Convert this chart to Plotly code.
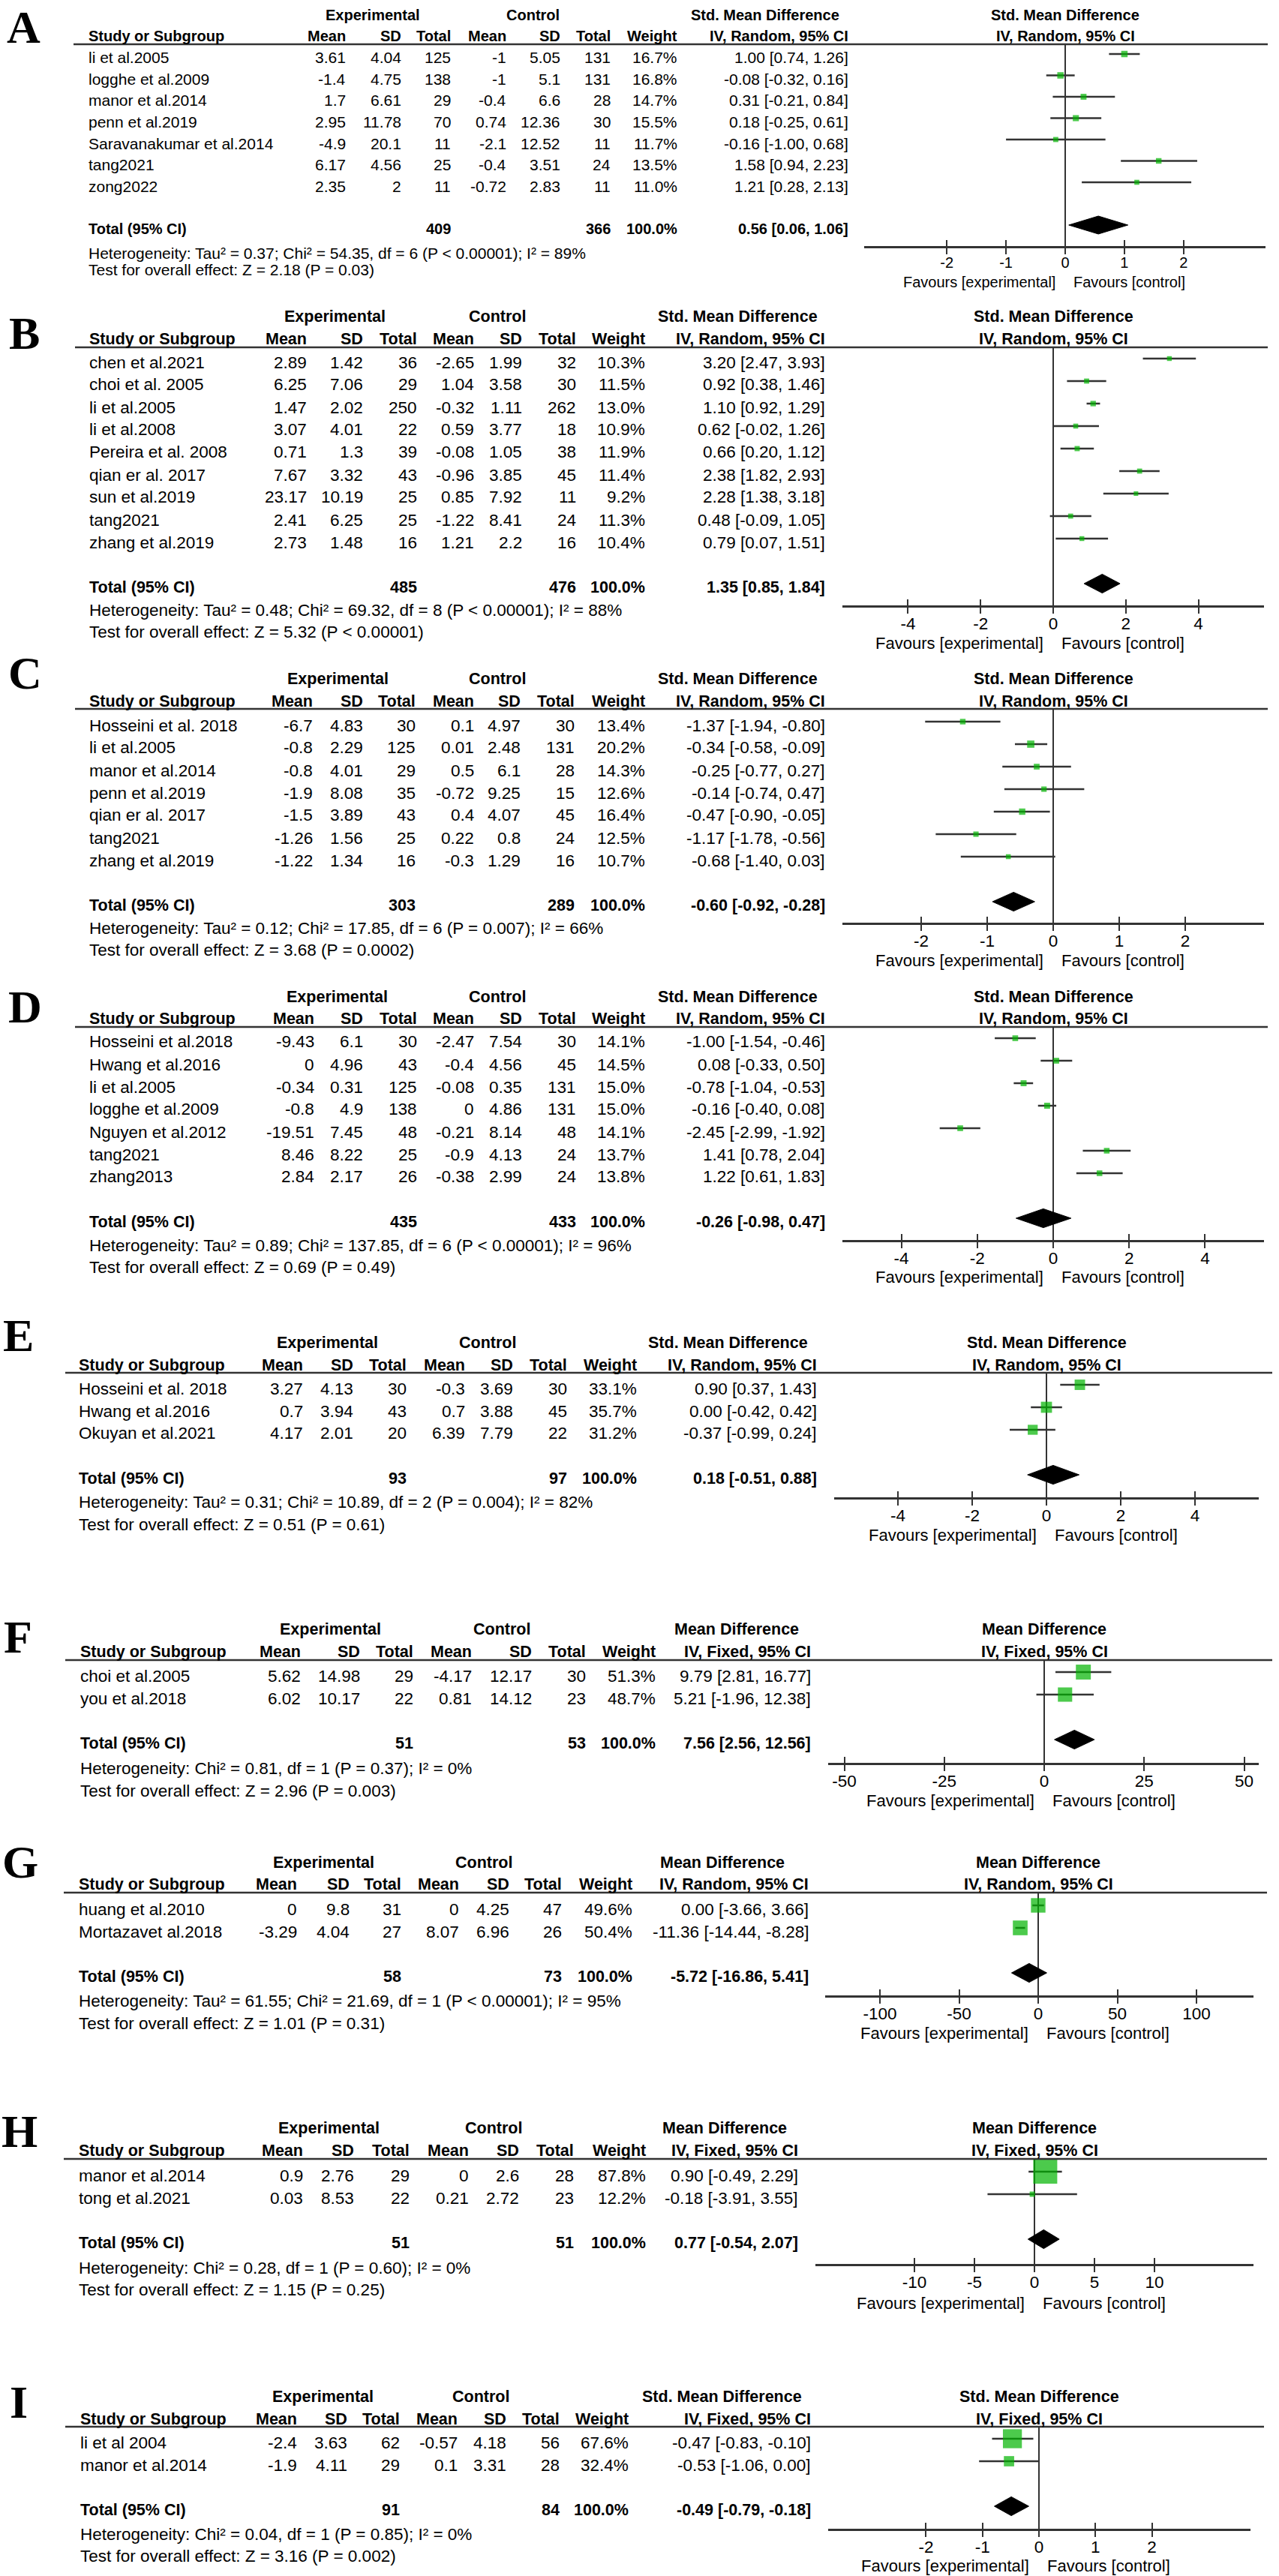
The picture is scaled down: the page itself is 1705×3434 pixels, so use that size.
import plotly.graph_objects as go

W, H = 1705, 3434

# ---------------- Panel A ----------------
A_measure = "Std. Mean Difference"
A_method = "IV, Random, 95% CI"
A_study = ["li et al.2005", "logghe et al.2009", "manor et al.2014", "penn et al.2019",
           "Saravanakumar et al.2014", "tang2021", "zong2022"]
A_exp_mean = [3.61, -1.4, 1.7, 2.95, -4.9, 6.17, 2.35]
A_exp_sd = [4.04, 4.75, 6.61, 11.78, 20.1, 4.56, 2]
A_exp_n = [125, 138, 29, 70, 11, 25, 11]
A_ctl_mean = [-1, -1, -0.4, 0.74, -2.1, -0.4, -0.72]
A_ctl_sd = [5.05, 5.1, 6.6, 12.36, 12.52, 3.51, 2.83]
A_ctl_n = [131, 131, 28, 30, 11, 24, 11]
A_weight = [16.7, 16.8, 14.7, 15.5, 11.7, 13.5, 11.0]
A_est = [1.00, -0.08, 0.31, 0.18, -0.16, 1.58, 1.21]
A_lo = [0.74, -0.32, -0.21, -0.25, -1.00, 0.94, 0.28]
A_hi = [1.26, 0.16, 0.84, 0.61, 0.68, 2.23, 2.13]
A_total = [409, 366, 100.0]
A_total_ci = [0.56, 0.06, 1.06]
A_het = "Heterogeneity: Tau² = 0.37; Chi² = 54.35, df = 6 (P < 0.00001); I² = 89%"
A_test = "Test for overall effect: Z = 2.18 (P = 0.03)"
A_ticks = [-2, -1, 0, 1, 2]

# ---------------- Panel B ----------------
B_measure = "Std. Mean Difference"
B_method = "IV, Random, 95% CI"
B_study = ["chen et al.2021", "choi et al. 2005", "li et al.2005", "li et al.2008",
           "Pereira et al. 2008", "qian er al. 2017", "sun et al.2019", "tang2021",
           "zhang et al.2019"]
B_exp_mean = [2.89, 6.25, 1.47, 3.07, 0.71, 7.67, 23.17, 2.41, 2.73]
B_exp_sd = [1.42, 7.06, 2.02, 4.01, 1.3, 3.32, 10.19, 6.25, 1.48]
B_exp_n = [36, 29, 250, 22, 39, 43, 25, 25, 16]
B_ctl_mean = [-2.65, 1.04, -0.32, 0.59, -0.08, -0.96, 0.85, -1.22, 1.21]
B_ctl_sd = [1.99, 3.58, 1.11, 3.77, 1.05, 3.85, 7.92, 8.41, 2.2]
B_ctl_n = [32, 30, 262, 18, 38, 45, 11, 24, 16]
B_weight = [10.3, 11.5, 13.0, 10.9, 11.9, 11.4, 9.2, 11.3, 10.4]
B_est = [3.20, 0.92, 1.10, 0.62, 0.66, 2.38, 2.28, 0.48, 0.79]
B_lo = [2.47, 0.38, 0.92, -0.02, 0.20, 1.82, 1.38, -0.09, 0.07]
B_hi = [3.93, 1.46, 1.29, 1.26, 1.12, 2.93, 3.18, 1.05, 1.51]
B_total = [485, 476, 100.0]
B_total_ci = [1.35, 0.85, 1.84]
B_het = "Heterogeneity: Tau² = 0.48; Chi² = 69.32, df = 8 (P < 0.00001); I² = 88%"
B_test = "Test for overall effect: Z = 5.32 (P < 0.00001)"
B_ticks = [-4, -2, 0, 2, 4]

# ---------------- Panel C ----------------
C_measure = "Std. Mean Difference"
C_method = "IV, Random, 95% CI"
C_study = ["Hosseini et al. 2018", "li et al.2005", "manor et al.2014", "penn et al.2019",
           "qian er al. 2017", "tang2021", "zhang et al.2019"]
C_exp_mean = [-6.7, -0.8, -0.8, -1.9, -1.5, -1.26, -1.22]
C_exp_sd = [4.83, 2.29, 4.01, 8.08, 3.89, 1.56, 1.34]
C_exp_n = [30, 125, 29, 35, 43, 25, 16]
C_ctl_mean = [0.1, 0.01, 0.5, -0.72, 0.4, 0.22, -0.3]
C_ctl_sd = [4.97, 2.48, 6.1, 9.25, 4.07, 0.8, 1.29]
C_ctl_n = [30, 131, 28, 15, 45, 24, 16]
C_weight = [13.4, 20.2, 14.3, 12.6, 16.4, 12.5, 10.7]
C_est = [-1.37, -0.34, -0.25, -0.14, -0.47, -1.17, -0.68]
C_lo = [-1.94, -0.58, -0.77, -0.74, -0.90, -1.78, -1.40]
C_hi = [-0.80, -0.09, 0.27, 0.47, -0.05, -0.56, 0.03]
C_total = [303, 289, 100.0]
C_total_ci = [-0.60, -0.92, -0.28]
C_het = "Heterogeneity: Tau² = 0.12; Chi² = 17.85, df = 6 (P = 0.007); I² = 66%"
C_test = "Test for overall effect: Z = 3.68 (P = 0.0002)"
C_ticks = [-2, -1, 0, 1, 2]

# ---------------- Panel D ----------------
D_measure = "Std. Mean Difference"
D_method = "IV, Random, 95% CI"
D_study = ["Hosseini et al.2018", "Hwang et al.2016", "li et al.2005", "logghe et al.2009",
           "Nguyen et al.2012", "tang2021", "zhang2013"]
D_exp_mean = [-9.43, 0, -0.34, -0.8, -19.51, 8.46, 2.84]
D_exp_sd = [6.1, 4.96, 0.31, 4.9, 7.45, 8.22, 2.17]
D_exp_n = [30, 43, 125, 138, 48, 25, 26]
D_ctl_mean = [-2.47, -0.4, -0.08, 0, -0.21, -0.9, -0.38]
D_ctl_sd = [7.54, 4.56, 0.35, 4.86, 8.14, 4.13, 2.99]
D_ctl_n = [30, 45, 131, 131, 48, 24, 24]
D_weight = [14.1, 14.5, 15.0, 15.0, 14.1, 13.7, 13.8]
D_est = [-1.00, 0.08, -0.78, -0.16, -2.45, 1.41, 1.22]
D_lo = [-1.54, -0.33, -1.04, -0.40, -2.99, 0.78, 0.61]
D_hi = [-0.46, 0.50, -0.53, 0.08, -1.92, 2.04, 1.83]
D_total = [435, 433, 100.0]
D_total_ci = [-0.26, -0.98, 0.47]
D_het = "Heterogeneity: Tau² = 0.89; Chi² = 137.85, df = 6 (P < 0.00001); I² = 96%"
D_test = "Test for overall effect: Z = 0.69 (P = 0.49)"
D_ticks = [-4, -2, 0, 2, 4]

# ---------------- Panel E ----------------
E_measure = "Std. Mean Difference"
E_method = "IV, Random, 95% CI"
E_study = ["Hosseini et al. 2018", "Hwang et al.2016", "Okuyan et al.2021"]
E_exp_mean = [3.27, 0.7, 4.17]
E_exp_sd = [4.13, 3.94, 2.01]
E_exp_n = [30, 43, 20]
E_ctl_mean = [-0.3, 0.7, 6.39]
E_ctl_sd = [3.69, 3.88, 7.79]
E_ctl_n = [30, 45, 22]
E_weight = [33.1, 35.7, 31.2]
E_est = [0.90, 0.00, -0.37]
E_lo = [0.37, -0.42, -0.99]
E_hi = [1.43, 0.42, 0.24]
E_total = [93, 97, 100.0]
E_total_ci = [0.18, -0.51, 0.88]
E_het = "Heterogeneity: Tau² = 0.31; Chi² = 10.89, df = 2 (P = 0.004); I² = 82%"
E_test = "Test for overall effect: Z = 0.51 (P = 0.61)"
E_ticks = [-4, -2, 0, 2, 4]

# ---------------- Panel F ----------------
F_measure = "Mean Difference"
F_method = "IV, Fixed, 95% CI"
F_study = ["choi et al.2005", "you et al.2018"]
F_exp_mean = [5.62, 6.02]
F_exp_sd = [14.98, 10.17]
F_exp_n = [29, 22]
F_ctl_mean = [-4.17, 0.81]
F_ctl_sd = [12.17, 14.12]
F_ctl_n = [30, 23]
F_weight = [51.3, 48.7]
F_est = [9.79, 5.21]
F_lo = [2.81, -1.96]
F_hi = [16.77, 12.38]
F_total = [51, 53, 100.0]
F_total_ci = [7.56, 2.56, 12.56]
F_het = "Heterogeneity: Chi² = 0.81, df = 1 (P = 0.37); I² = 0%"
F_test = "Test for overall effect: Z = 2.96 (P = 0.003)"
F_ticks = [-50, -25, 0, 25, 50]

# ---------------- Panel G ----------------
G_measure = "Mean Difference"
G_method = "IV, Random, 95% CI"
G_study = ["huang et al.2010", "Mortazavet al.2018"]
G_exp_mean = [0, -3.29]
G_exp_sd = [9.8, 4.04]
G_exp_n = [31, 27]
G_ctl_mean = [0, 8.07]
G_ctl_sd = [4.25, 6.96]
G_ctl_n = [47, 26]
G_weight = [49.6, 50.4]
G_est = [0.00, -11.36]
G_lo = [-3.66, -14.44]
G_hi = [3.66, -8.28]
G_total = [58, 73, 100.0]
G_total_ci = [-5.72, -16.86, 5.41]
G_het = "Heterogeneity: Tau² = 61.55; Chi² = 21.69, df = 1 (P < 0.00001); I² = 95%"
G_test = "Test for overall effect: Z = 1.01 (P = 0.31)"
G_ticks = [-100, -50, 0, 50, 100]

# ---------------- Panel H ----------------
H_measure = "Mean Difference"
H_method = "IV, Fixed, 95% CI"
H_study = ["manor et al.2014", "tong et al.2021"]
H_exp_mean = [0.9, 0.03]
H_exp_sd = [2.76, 8.53]
H_exp_n = [29, 22]
H_ctl_mean = [0, 0.21]
H_ctl_sd = [2.6, 2.72]
H_ctl_n = [28, 23]
H_weight = [87.8, 12.2]
H_est = [0.90, -0.18]
H_lo = [-0.49, -3.91]
H_hi = [2.29, 3.55]
H_total = [51, 51, 100.0]
H_total_ci = [0.77, -0.54, 2.07]
H_het = "Heterogeneity: Chi² = 0.28, df = 1 (P = 0.60); I² = 0%"
H_test = "Test for overall effect: Z = 1.15 (P = 0.25)"
H_ticks = [-10, -5, 0, 5, 10]

# ---------------- Panel I ----------------
I_measure = "Std. Mean Difference"
I_method = "IV, Fixed, 95% CI"
I_study = ["li et al 2004", "manor et al.2014"]
I_exp_mean = [-2.4, -1.9]
I_exp_sd = [3.63, 4.11]
I_exp_n = [62, 29]
I_ctl_mean = [-0.57, 0.1]
I_ctl_sd = [4.18, 3.31]
I_ctl_n = [56, 28]
I_weight = [67.6, 32.4]
I_est = [-0.47, -0.53]
I_lo = [-0.83, -1.06]
I_hi = [-0.10, 0.00]
I_total = [91, 84, 100.0]
I_total_ci = [-0.49, -0.79, -0.18]
I_het = "Heterogeneity: Chi² = 0.04, df = 1 (P = 0.85); I² = 0%"
I_test = "Test for overall effect: Z = 3.16 (P = 0.002)"
I_ticks = [-2, -1, 0, 1, 2]

PANELS = "ABCDEFGHI"
FIELDS = ["measure", "method", "study", "exp_mean", "exp_sd", "exp_n", "ctl_mean",
          "ctl_sd", "ctl_n", "weight", "est", "lo", "hi", "total", "total_ci",
          "het", "test", "ticks"]
DATA = {p: {f: globals()[f"{p}_{f}"] for f in FIELDS} for p in PANELS}

# ---------------- layout geometry (pixels) ----------------
GEO = {
    "A": dict(lx=31, ly=0, ltop=True, h1=20, h2=48, line_y=59, line_x=(98, 1690), row0=72, sp=28.5,
              axis_y=328, axis_x=(1152, 1687), zero=1420, ppu=78.9, het=337, test=359, fav=376,
              name_x=116, cols=(463, 537, 603, 677, 749, 816, 905, 1133),
              exp_c=497, ctl_c=710, eff_c=1020, fs=21, fsb=20, tfs=20, ffs=20),
    "B": dict(lx=32, ly=444, h1=422, h2=452, line_y=463, line_x=(100, 1690), row0=478, sp=30,
              axis_y=807, axis_x=(1123, 1685), zero=1404, ppu=48.4, het=814, test=843, fav=857,
              name_x=117, cols=(411, 486, 558, 634, 698, 770, 862, 1102),
              exp_c=446, ctl_c=663, eff_c=983, fs=22.5, fsb=21.5),
    "C": dict(lx=33, ly=897, h1=905, h2=935, line_y=945, line_x=(100, 1690), row0=962, sp=30,
              axis_y=1230, axis_x=(1123, 1685), zero=1404, ppu=88.0, het=1238, test=1267, fav=1280,
              name_x=117, cols=(419, 486, 556, 634, 696, 768, 862, 1102),
              exp_c=450, ctl_c=663, eff_c=983, fs=22.5, fsb=21.5),
    "D": dict(lx=33, ly=1342, h1=1329, h2=1358, line_y=1369, line_x=(100, 1690), row0=1384, sp=30,
              axis_y=1653, axis_x=(1123, 1685), zero=1404, ppu=50.6, het=1660, test=1689, fav=1703,
              name_x=117, cols=(421, 486, 558, 634, 698, 770, 862, 1102),
              exp_c=449, ctl_c=663, eff_c=983, fs=22.5, fsb=21.5),
    "E": dict(lx=24, ly=1780, h1=1790, h2=1820, line_y=1830, line_x=(87, 1696), row0=1846, sp=30,
              axis_y=1996, axis_x=(1112, 1678), zero=1395, ppu=49.5, het=2002, test=2032, fav=2046,
              name_x=103, cols=(406, 473, 544, 622, 686, 758, 851, 1091),
              exp_c=437, ctl_c=650, eff_c=971, fs=22.5, fsb=21.5),
    "F": dict(lx=24, ly=2182, h1=2172, h2=2202, line_y=2213, line_x=(87, 1696), row0=2229, sp=30,
              axis_y=2350, axis_x=(1104, 1678), zero=1392, ppu=5.33, het=2357, test=2387, fav=2400,
              name_x=105, cols=(403, 482, 553, 631, 711, 783, 876, 1083),
              exp_c=440, ctl_c=669, eff_c=982, fs=22.5, fsb=21.5),
    "G": dict(lx=27, ly=2482, h1=2483, h2=2512, line_y=2523, line_x=(85, 1689), row0=2540, sp=30,
              axis_y=2660, axis_x=(1100, 1671), zero=1384, ppu=2.11, het=2667, test=2697, fav=2710,
              name_x=103, cols=(398, 468, 537, 614, 681, 751, 845, 1080),
              exp_c=431, ctl_c=645, eff_c=963, fs=22.5, fsb=21.5),
    "H": dict(lx=26, ly=2841, h1=2837, h2=2867, line_y=2878, line_x=(85, 1689), row0=2895, sp=30,
              axis_y=3018, axis_x=(1087, 1671), zero=1379, ppu=16.0, het=3023, test=3052, fav=3070,
              name_x=103, cols=(406, 474, 548, 627, 694, 767, 863, 1066),
              exp_c=438, ctl_c=658, eff_c=966, fs=22.5, fsb=21.5),
    "I": dict(lx=25, ly=3202, h1=3195, h2=3225, line_y=3235, line_x=(87, 1685), row0=3251, sp=30,
              axis_y=3371, axis_x=(1104, 1667), zero=1385, ppu=75.3, het=3378, test=3407, fav=3420,
              name_x=105, cols=(398, 465, 535, 612, 677, 748, 840, 1083),
              exp_c=430, ctl_c=641, eff_c=962, fs=22.5, fsb=21.5),
}

FONT = "Liberation Sans, Arial, sans-serif"
SERIF = "Liberation Serif, Times New Roman, serif"
LINE = "#333333"
GREEN = "#00b400"
TXT_DY = 5        # text centre sits a few px below the marker centre
DIAMOND_H = 0.42  # half height of the pooled diamond, in row units


def num(v):
    return f"{v:g}"


def ci(e, l, h):
    return f"{e:.2f} [{l:.2f}, {h:.2f}]"


annotations = []
shapes = []
axes = {}
fig = go.Figure()


def T(x, y, text, xa="left", size=22, bold=False, family=FONT, ya="middle"):
    annotations.append(dict(
        x=x / W, y=1 - y / H, xref="paper", yref="paper", text=text, showarrow=False,
        xanchor=xa, yanchor=ya,
        font=dict(family=family, size=size, color="black", weight="bold" if bold else "normal")))


for k, p in enumerate(PANELS, start=1):
    d, g = DATA[p], GEO[p]
    n = len(d["study"])
    xa, ya, xo = f"x{k}", f"y{k}", f"x{k + 9}"
    rows = [-i for i in range(n)]
    tot = -(n + 1)
    fs, fsb, cols = g["fs"], g["fsb"], g["cols"]
    tfs = g.get("tfs", fs)
    ffs = g.get("ffs", fs - 0.5)

    # confidence-interval whiskers
    xs, ys = [], []
    for i in range(n):
        xs += [d["lo"][i], d["hi"][i], None]
        ys += [rows[i], rows[i], None]
    fig.add_trace(go.Scatter(x=xs, y=ys, mode="lines", line=dict(color=LINE, width=2.5),
                             xaxis=xa, yaxis=ya, hoverinfo="skip", showlegend=False))
    # study squares
    fig.add_trace(go.Scatter(x=d["est"], y=rows, mode="markers",
                             marker=dict(symbol="square", color=GREEN,
                                         size=[3 + 0.33 * w for w in d["weight"]],
                                         line=dict(width=0)),
                             xaxis=xa, yaxis=ya, showlegend=False))
    # pooled diamond
    e, l, h = d["total_ci"]
    fig.add_trace(go.Scatter(x=[l, e, h, e, l],
                             y=[tot, tot + DIAMOND_H, tot, tot - DIAMOND_H, tot],
                             mode="lines", fill="toself", fillcolor="black",
                             line=dict(color="black", width=1),
                             xaxis=xa, yaxis=ya, hoverinfo="skip", showlegend=False))
    # invisible trace for the overlay tick axis (upper half of crossing ticks)
    fig.add_trace(go.Scatter(x=d["ticks"], y=[tot] * len(d["ticks"]), mode="markers",
                             marker=dict(opacity=0), xaxis=xo, yaxis=ya,
                             hoverinfo="skip", showlegend=False))

    x0, x1 = g["axis_x"]
    rng = [(x0 - g["zero"]) / g["ppu"], (x1 - g["zero"]) / g["ppu"]]
    dom = [x0 / W, x1 / W]
    axes[f"xaxis{k}"] = dict(
        domain=dom, range=rng, anchor=ya, showline=True, linecolor=LINE, linewidth=2.5,
        ticks="outside", ticklen=8, tickwidth=2, tickcolor=LINE, ticklabelstandoff=-6,
        tickvals=d["ticks"], ticktext=[str(t) for t in d["ticks"]],
        tickfont=dict(family=FONT, size=tfs, color="black"),
        showgrid=False, zeroline=True, zerolinecolor=LINE, zerolinewidth=1.5, fixedrange=True)
    axes[f"xaxis{k + 9}"] = dict(
        domain=dom, range=rng, anchor=ya, overlaying=xa, showline=False,
        ticks="inside", ticklen=8, tickwidth=2, tickcolor=LINE,
        tickvals=d["ticks"], showticklabels=False, showgrid=False, zeroline=False,
        fixedrange=True)
    axes[f"yaxis{k}"] = dict(
        domain=[1 - g["axis_y"] / H, 1 - g["line_y"] / H],
        range=[-(g["axis_y"] - g["row0"]) / g["sp"], (g["row0"] - g["line_y"]) / g["sp"]],
        visible=False, fixedrange=True)

    # header line
    shapes.append(dict(type="line", xref="paper", yref="paper",
                       x0=g["line_x"][0] / W, x1=g["line_x"][1] / W,
                       y0=1 - g["line_y"] / H, y1=1 - g["line_y"] / H,
                       line=dict(color=LINE, width=2.5)))

    # panel letter
    T(g["lx"], g["ly"], p, xa="center", size=62, bold=True, family=SERIF,
      ya="top" if g.get("ltop") else "middle")
    # header row 1
    T(g["exp_c"], g["h1"], "Experimental", "center", fsb, True)
    T(g["ctl_c"], g["h1"], "Control", "center", fsb, True)
    T(g["eff_c"], g["h1"], d["measure"], "center", fsb, True)
    T(g["zero"], g["h1"], d["measure"], "center", fsb, True)
    # header row 2
    T(g["name_x"], g["h2"], "Study or Subgroup", "left", fsb, True)
    for c, lab in zip(cols[:7], ["Mean", "SD", "Total", "Mean", "SD", "Total", "Weight"]):
        T(c, g["h2"], lab, "right", fsb, True)
    T(cols[7], g["h2"], d["method"], "right", fsb, True)
    T(g["zero"], g["h2"], d["method"], "center", fsb, True)

    # study rows
    for i in range(n):
        y = g["row0"] + i * g["sp"] + TXT_DY
        T(g["name_x"], y, d["study"][i], "left", fs)
        vals = [num(d["exp_mean"][i]), num(d["exp_sd"][i]), str(d["exp_n"][i]),
                num(d["ctl_mean"][i]), num(d["ctl_sd"][i]), str(d["ctl_n"][i]),
                f"{d['weight'][i]:.1f}%", ci(d["est"][i], d["lo"][i], d["hi"][i])]
        for c, v in zip(cols, vals):
            T(c, y, v, "right", fs)

    # total row
    yt = g["row0"] + (n + 1) * g["sp"] + TXT_DY
    T(g["name_x"], yt, "Total (95% CI)", "left", fsb, True)
    T(cols[2], yt, str(d["total"][0]), "right", fsb, True)
    T(cols[5], yt, str(d["total"][1]), "right", fsb, True)
    T(cols[6], yt, f"{d['total'][2]:.1f}%", "right", fsb, True)
    T(cols[7], yt, ci(*d["total_ci"]), "right", fsb, True)

    # statistics
    T(g["name_x"], g["het"], d["het"], "left", fs)
    T(g["name_x"], g["test"], d["test"], "left", fs)

    # favours labels
    T(g["zero"] - 11, g["fav"], "Favours [experimental]", "right", ffs)
    T(g["zero"] + 9, g["fav"], "Favours [control]", "left", ffs)

fig.update_layout(
    width=W, height=H, autosize=False,
    margin=dict(l=0, r=0, t=0, b=0, pad=0),
    paper_bgcolor="white", plot_bgcolor="rgba(0,0,0,0)",
    showlegend=False, annotations=annotations, shapes=shapes,
    **axes)

fig.write_html("out.html", config={"displayModeBar": False},
               post_script="document.body.style.margin='0px';")
